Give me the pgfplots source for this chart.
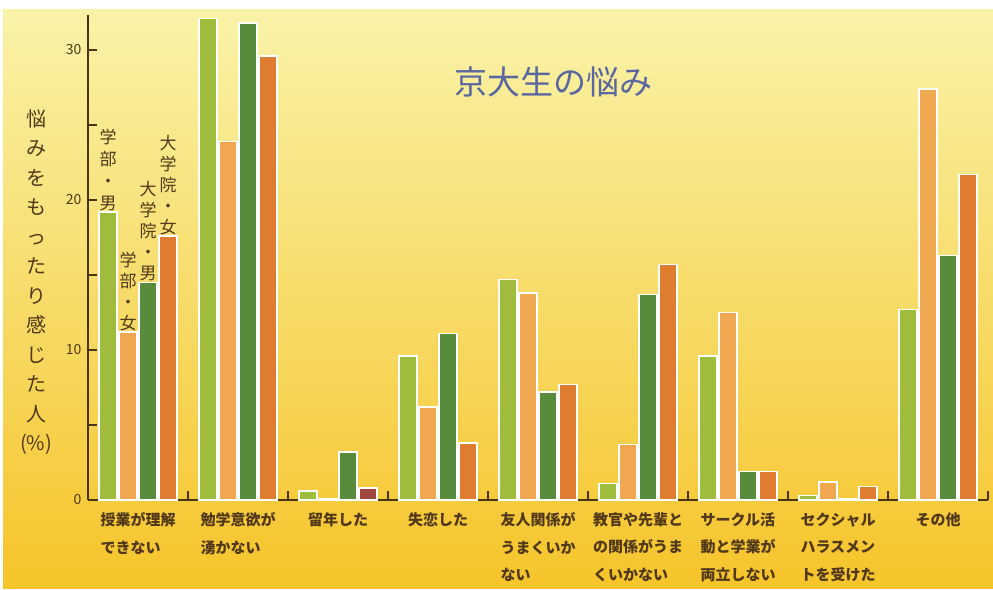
\documentclass[border=0pt]{standalone}
\usepackage{pgfplots}
\pgfplotsset{compat=1.18}
\usepackage{fontspec}
\setmainfont{Noto Sans CJK JP}
\definecolor{lgreen}{RGB}{160,188,60}
\definecolor{lorange}{RGB}{240,168,80}
\definecolor{dgreen}{RGB}{88,140,60}
\definecolor{dorange}{RGB}{224,124,48}
\definecolor{brownbar}{RGB}{160,72,60}
\definecolor{txt}{RGB}{80,56,24}
\definecolor{axcol}{RGB}{74,52,20}
\definecolor{ttl}{RGB}{90,102,160}
\definecolor{bgtop}{RGB}{249,243,168}
\definecolor{bgmid}{RGB}{248,216,82}
\definecolor{bgbot}{RGB}{246,196,42}
\begin{document}
\begin{tikzpicture}
\fill[white] (0pt,0pt) rectangle (993pt,589pt);
\shade[top color=bgtop, middle color=bgmid, bottom color=bgbot] (3pt,0pt) rectangle (993pt,579pt);
\begin{axis}[
  at={(88pt,89pt)}, anchor=south west,
  x=100pt, y=15pt,
  xmin=-0.5, xmax=8.5, ymin=0, ymax=32.3,
  clip=false,
  axis lines=left,
  axis line style={-, line width=2.5pt, color=axcol},
  ybar, bar width=18pt,
  tick align=inside,
  major tick length=9pt, minor tick length=9pt,
  tick style={line width=2pt, color=axcol},
  ytick={0,10,20,30}, minor ytick={5,15,25},
  yticklabel style={font=\fontsize{14}{14}\selectfont, text=txt, xshift=-3pt},
  /pgf/number format/assume math mode=true,
  xtick={0,...,8},
  minor xtick={0.5,1.5,...,8.5},
  major x tick style={draw=none},
  xticklabels={{授業が理解\\できない},{勉学意欲が\\湧かない},{留年した},{失恋した},{友人関係が\\うまくいか\\ない},{教官や先輩と\\の関係がうま\\くいかない},{サークル活\\動と学業が\\両立しない},{セクシャル\\ハラスメン\\トを受けた},{その他}},
  xticklabel style={align=left, font=\fontsize{15}{27.5}\selectfont\bfseries, text=txt, anchor=north, yshift=-9pt},
  every axis plot/.append style={draw=white, line width=1.3pt},
]
\addplot[fill=lgreen, bar shift=-30pt] coordinates {(0,19.2) (1,32.1) (2,0.6) (3,9.6) (4,14.7) (5,1.1) (6,9.6) (7,0.3) (8,12.7)};
\addplot[fill=lorange, bar shift=-10pt] coordinates {(0,11.2) (1,23.9) (2,0.1) (3,6.2) (4,13.8) (5,3.7) (6,12.5) (7,1.2) (8,27.4)};
\addplot[fill=dgreen, bar shift=10pt] coordinates {(0,14.5) (1,31.8) (2,3.2) (3,11.1) (4,7.2) (5,13.7) (6,1.9) (7,0.1) (8,16.3)};
\addplot[fill=dorange, bar shift=30pt] coordinates {(0,17.6) (1,29.6) (3,3.8) (4,7.7) (5,15.7) (6,1.9) (7,0.9) (8,21.7)};
\addplot[fill=brownbar, bar shift=30pt] coordinates {(2,0.8)};
\node[anchor=south, align=center, inner sep=1pt, text=txt, font=\fontsize{17}{22}\selectfont] at (axis cs:0,19.2) [xshift=-30pt] {学\\部\\・\\男};
\node[anchor=south, align=center, inner sep=1pt, text=txt, font=\fontsize{17}{21}\selectfont] at (axis cs:0,11.2) [xshift=-10pt] {学\\部\\・\\女};
\node[anchor=south, align=center, inner sep=1pt, text=txt, font=\fontsize{17}{21}\selectfont] at (axis cs:0,14.5) [xshift=10pt] {大\\学\\院\\・\\男};
\node[anchor=south, align=center, inner sep=1pt, text=txt, font=\fontsize{17}{21}\selectfont] at (axis cs:0,17.6) [xshift=30pt] {大\\学\\院\\・\\女};
\end{axis}
\node[text=ttl, font=\fontsize{33}{33}\selectfont] at (553pt,507pt) {京大生の悩み};
\node[text=txt, align=center, font=\fontsize{20}{29.5}\selectfont] at (36pt,307pt) {悩\\み\\を\\も\\っ\\た\\り\\感\\じ\\た\\人\\(\%)};
\end{tikzpicture}
\end{document}
